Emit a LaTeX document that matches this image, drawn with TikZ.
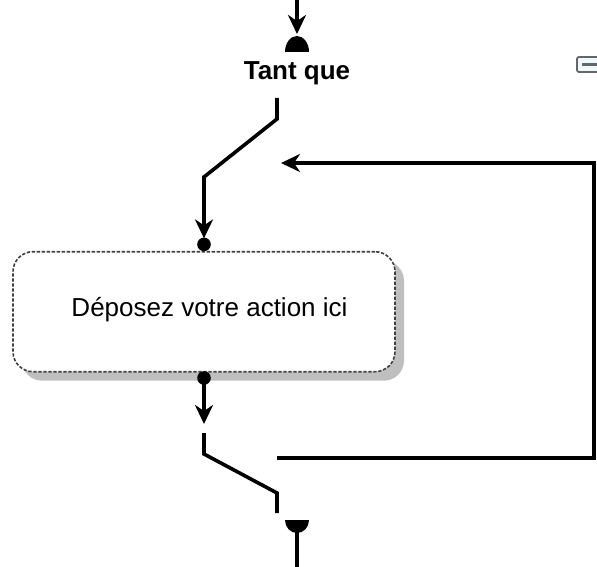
\documentclass[tikz,border=0pt]{standalone}
\usepackage{fontspec}
\setmainfont{Liberation Sans}
\usetikzlibrary{arrows.meta,shadows}

\begin{document}
\begin{tikzpicture}[x=1pt, y=1pt,
  flow/.style={line width=3.6pt, draw=black},
  arr/.style={flow, -{Stealth[length=19pt, width=18pt, inset=6pt]}},
  actionbox/.style={rectangle, rounded corners=20pt, draw=black!75, dash pattern=on 3.3pt off 1.7pt, line width=1.6pt, fill=white, minimum width=382pt, minimum height=120pt, drop shadow={shadow xshift=9pt, shadow yshift=-9pt, fill=black!25, opacity=1}},
  lbl/.style={font=\fontsize{26}{30}\selectfont, inner sep=0pt},
  collapse/.style={rectangle, rounded corners=2pt, draw=black!60, line width=1.8pt, fill=cyan!7, minimum width=22pt, minimum height=15pt}
]
\useasboundingbox (0,0) rectangle (597,-567);
\node[collapse] (fold) at (588,-64.5) {};
\draw[black!60, line width=2.2pt] ([xshift=6pt]fold.west) -- ([xshift=-1pt]fold.east);
\coordinate (top) at (297,0);
\coordinate (bellin) at (297,-52);
\node[lbl, font=\fontsize{26}{30}\selectfont\bfseries, anchor=base] (tantque) at (297,-80) {Tant que};
\coordinate (sw1a) at (277,-98);
\coordinate (sw1b) at (277,-119);
\coordinate (sw1c) at (204,-177);
\node[actionbox] (action) at (204,-311.7) {};
\node[lbl, anchor=base] (actionlabel) at ([xshift=5.5pt, yshift=-4.3pt]action.center) {Déposez votre action ici};
\coordinate (dotin) at ([yshift=6.5pt]action.north);
\coordinate (dotout) at ([yshift=-5.5pt]action.south);
\coordinate (loopin) at (281,-163);
\coordinate (loopne) at (594,-163);
\coordinate (loopse) at (594,-458);
\coordinate (loopout) at (277,-458);
\coordinate (sw2a) at (204,-433);
\coordinate (sw2b) at (204,-454);
\coordinate (sw2c) at (277,-493);
\coordinate (sw2d) at (277,-513);
\coordinate (bellout) at (297,-520);
\coordinate (bottom) at (297,-567);
\fill (bellin) ++(-12,0) arc[start angle=180, end angle=0, x radius=12, y radius=16] -- cycle;
\fill (bellout) ++(-12,0) arc[start angle=180, end angle=360, x radius=12, y radius=13] -- cycle;
\fill (dotin) circle (6.8);
\fill (dotout) circle (6.8);
\draw[arr] (top) -- ([yshift=18pt]bellin);
\draw[arr] (sw1a) -- (sw1b) -- (sw1c) -- ([yshift=6pt]dotin);
\draw[arr] (loopout) -- (loopse) -- (loopne) -- (loopin);
\draw[arr] (dotout) -- ([yshift=-46pt]dotout);
\draw[flow] (sw2a) -- (sw2b) -- (sw2c) -- (sw2d);
\draw[flow] (bellout) -- (bottom);
\end{tikzpicture}
\end{document}
